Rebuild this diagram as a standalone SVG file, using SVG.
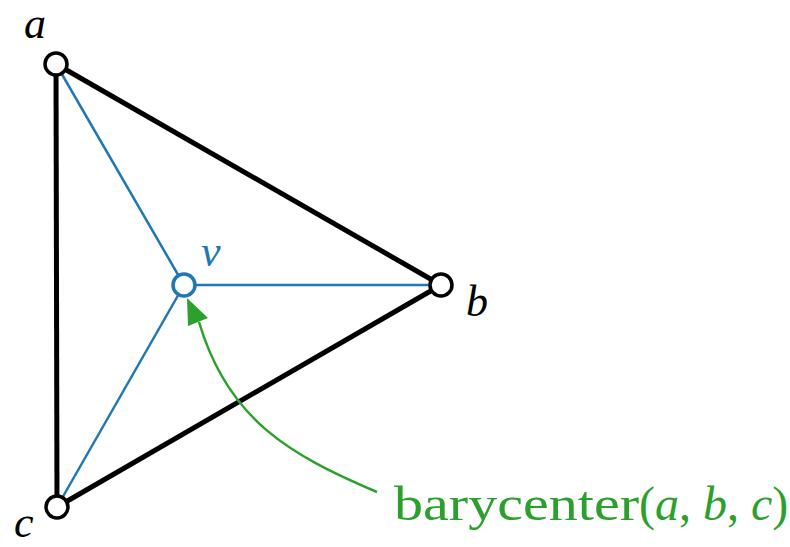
<svg xmlns="http://www.w3.org/2000/svg" width="790" height="547" viewBox="0 0 790 547">
<style>
.edge{stroke:#000;stroke-width:5;fill:none}
.spoke{stroke:#1f77b4;stroke-width:2.5;fill:none}
.node{fill:#fff;stroke:#000;stroke-width:3.5}
.lbl{font-family:"Liberation Serif",serif;font-style:italic;font-size:44px;fill:#000}
.green{fill:#2ca02c;font-family:"Liberation Serif",serif;font-size:48px}
</style>
<rect width="790" height="547" fill="#fff"/>
<g id="connectors">
<line class="edge" x1="56" y1="64" x2="441" y2="285"/>
<line class="edge" x1="441" y1="285" x2="57" y2="507"/>
<line class="edge" x1="56" y1="64" x2="57" y2="507"/>
<line class="spoke" x1="184" y1="285" x2="56" y2="64"/>
<line class="spoke" x1="184" y1="285" x2="441" y2="285"/>
<line class="spoke" x1="184" y1="285" x2="57" y2="507"/>
<path d="M377,492 C290,455 228,420 199,322" stroke="#2ca02c" stroke-width="2.5" fill="none"/>
<path d="M187,298 L188,326 L208,318 z" fill="#2ca02c"/>
</g>
<g id="node-a"><circle class="node" cx="56" cy="64" r="11"/><text class="lbl" x="24" y="38">a</text></g>
<g id="node-b"><circle class="node" cx="441" cy="285" r="11"/><text class="lbl" x="466" y="316">b</text></g>
<g id="node-c"><circle class="node" cx="57" cy="507" r="11"/><text class="lbl" x="14" y="537">c</text></g>
<g id="node-v"><circle class="node" cx="184" cy="285" r="11" style="stroke:#1f77b4"/><text class="lbl" x="201" y="266" style="fill:#1f77b4">v</text></g>
<g id="label-barycenter">
<text class="green" x="394" y="520"><tspan textLength="245" lengthAdjust="spacingAndGlyphs">barycenter</tspan><tspan>(</tspan><tspan font-style="italic">a</tspan><tspan>, </tspan><tspan font-style="italic">b</tspan><tspan>, </tspan><tspan font-style="italic">c</tspan><tspan>)</tspan></text>
</g>
</svg>
